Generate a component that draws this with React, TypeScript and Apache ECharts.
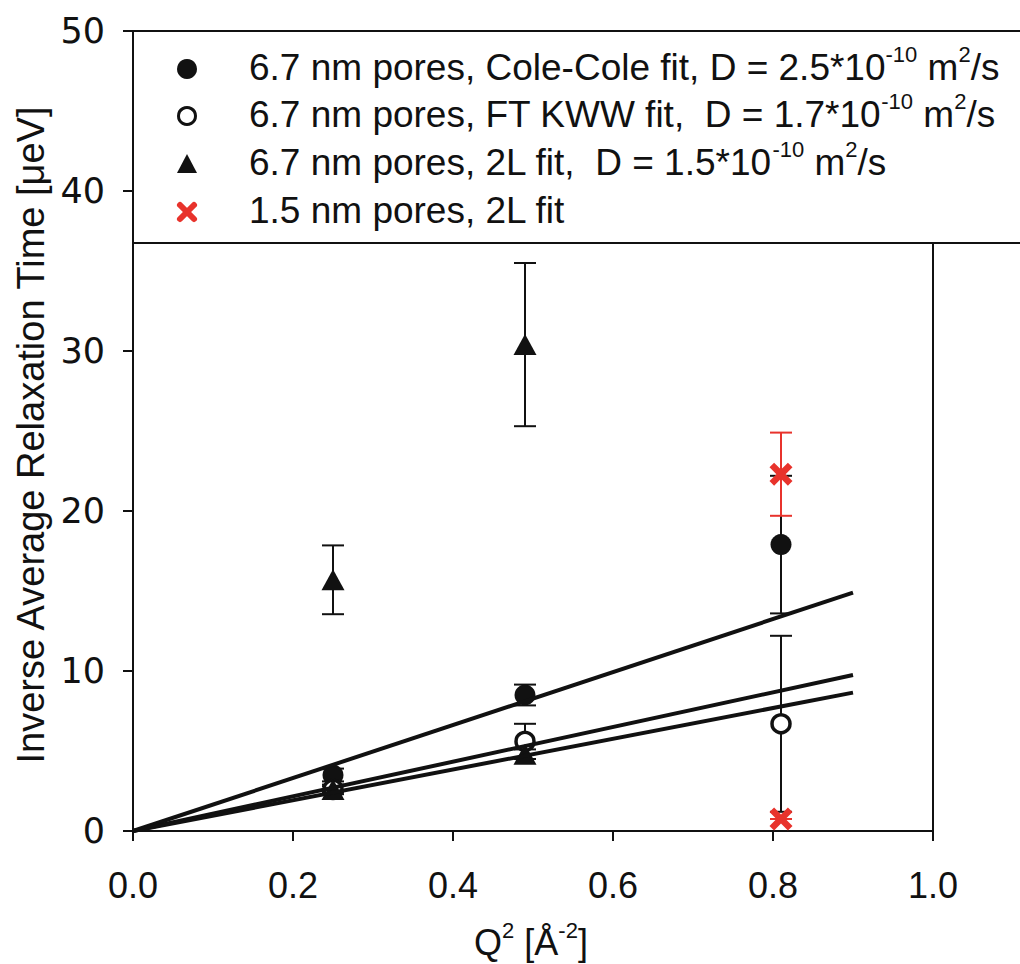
import React, { useEffect, useRef } from "react";
import * as echarts from "echarts";

// ---- data ----
const qColeCole = [0.25, 0.49, 0.81];
const coleCole = [3.5, 8.5, 17.9];
const coleColeErr = [0.4, 0.65, 4.3];

const qKww = [0.25, 0.49, 0.81];
const ftKww = [2.6, 5.6, 6.7];
const ftKwwErr = [0.3, 1.1, 5.5];

const q2L = [0.25, 0.49, 0.25, 0.49];
const twoL = [2.6, 4.8, 15.7, 30.4];
const twoLErr = [0.2, 0.3, 2.15, 5.1];

const qSmall = [0.81, 0.81];
const smallPores = [22.3, 0.75];
const smallPoresErr = [2.6, 0];

const fitX = [0, 0.9];
const fitColeCole = [0, 14.9];
const fitKww = [0, 9.75];
const fit2L = [0, 8.65];

const legendLabels = [
  "{a|6.7 nm pores, Cole-Cole fit, D = 2.5*10}{s|-10}{a| m}{s|2}{a|/s}",
  "{a|6.7 nm pores, FT KWW fit,  D = 1.7*10}{s|-10}{a| m}{s|2}{a|/s}",
  "{a|6.7 nm pores, 2L fit,  D = 1.5*10}{s|-10}{a| m}{s|2}{a|/s}",
  "{a|1.5 nm pores, 2L fit}",
];

const RED = "#e8332c";
const INK = "#111";
const CROSS =
  "path://M0,4 L4,0 L10,6 L16,0 L20,4 L14,10 L20,16 L16,20 L10,14 L4,20 L0,16 L6,10 Z";

const FONT = "'Liberation Sans', Arial, sans-serif";

function errData(xs: number[], ys: number[], es: number[]) {
  return xs.map((x, i) => [x, ys[i] - es[i], ys[i] + es[i]]);
}

function errSeries(data: number[][], color: string, lw: number) {
  return {
    type: "custom",
    z: 2,
    silent: true,
    data,
    renderItem: (params: any, api: any) => {
      const x = api.value(0);
      const lo = api.value(1);
      const hi = api.value(2);
      const p1 = api.coord([x, lo]);
      const p2 = api.coord([x, hi]);
      const hw = 11;
      const st = { stroke: color, lineWidth: lw };
      return {
        type: "group",
        children: [
          { type: "line", shape: { x1: p1[0], y1: p1[1], x2: p2[0], y2: p2[1] }, style: st },
          { type: "line", shape: { x1: p1[0] - hw, y1: p1[1], x2: p1[0] + hw, y2: p1[1] }, style: st },
          { type: "line", shape: { x1: p2[0] - hw, y1: p2[1], x2: p2[0] + hw, y2: p2[1] }, style: st },
        ],
      };
    },
  };
}

export default function App() {
  const ref = useRef<HTMLDivElement>(null);
  useEffect(() => {
    document.body.style.margin = "0";
    const chart = echarts.init(ref.current!, undefined, { renderer: "svg" });
    const left = 133;
    const top = 31;
    const w = 800;
    const h = 800;

    const rich = {
      a: { fontSize: 37, fontFamily: FONT, fill: INK, lineHeight: 48 },
      s: { fontSize: 22, fontFamily: FONT, fill: INK, verticalAlign: "top", lineHeight: 22 },
    };
    const rowY = [69, 116, 164, 212];
    const mx = 187;

    const graphics: any[] = [
      {
        type: "rect",
        z: 10,
        shape: { x: left, y: top, width: 1000, height: 212 },
        style: { fill: "#fff", stroke: INK, lineWidth: 2 },
      },
      {
        type: "line",
        z: 10,
        shape: { x1: left + w, y1: 243, x2: left + w, y2: top + h },
        style: { stroke: INK, lineWidth: 2 },
      },
      { type: "circle", z: 11, shape: { cx: mx, cy: rowY[0], r: 10 }, style: { fill: INK } },
      {
        type: "circle",
        z: 11,
        shape: { cx: mx, cy: rowY[1], r: 8.5 },
        style: { fill: "#fff", stroke: INK, lineWidth: 3 },
      },
      {
        type: "polygon",
        z: 11,
        shape: { points: [[mx, rowY[2] - 10], [mx - 10, rowY[2] + 9], [mx + 10, rowY[2] + 9]] },
        style: { fill: INK },
      },
      {
        type: "line",
        z: 11,
        shape: { x1: mx - 7, y1: rowY[3] - 7, x2: mx + 7, y2: rowY[3] + 7 },
        style: { stroke: RED, lineWidth: 6, lineCap: "round" },
      },
      {
        type: "line",
        z: 11,
        shape: { x1: mx - 7, y1: rowY[3] + 7, x2: mx + 7, y2: rowY[3] - 7 },
        style: { stroke: RED, lineWidth: 6, lineCap: "round" },
      },
      ...legendLabels.map((t, i) => ({
        type: "text",
        z: 11,
        x: 249,
        y: rowY[i] - 2,
        style: { text: t, rich, verticalAlign: "middle", align: "left" },
      })),
      {
        type: "text",
        z: 11,
        x: 31,
        y: 435,
        rotation: Math.PI / 2,
        style: {
          text: "Inverse Average Relaxation Time [μeV]",
          fontSize: 38,
          fontFamily: FONT,
          fill: INK,
          align: "center",
          verticalAlign: "middle",
        },
      },
      {
        type: "text",
        z: 11,
        x: 531,
        y: 942,
        style: {
          text: "{a|Q}{s|2}{a| [Å}{s|-2}{a|]}",
          rich: {
            a: { fontSize: 36, fontFamily: FONT, fill: INK, lineHeight: 46 },
            s: { fontSize: 22, fontFamily: FONT, fill: INK, verticalAlign: "top", lineHeight: 22 },
          },
          align: "center",
          verticalAlign: "middle",
        },
      },
    ];

    chart.setOption({
      animation: false,
      grid: { left, top, width: w, height: h, containLabel: false },
      xAxis: {
        type: "value",
        min: 0,
        max: 1,
        interval: 0.2,
        axisLine: { show: true, lineStyle: { color: INK, width: 2 } },
        axisTick: { show: true, inside: false, length: 10, lineStyle: { color: INK, width: 2 } },
        splitLine: { show: false },
        axisLabel: {
          margin: 36,
          fontSize: 36,
          fontFamily: FONT,
          color: INK,
          formatter: (v: number) => v.toFixed(1),
        },
      },
      yAxis: {
        type: "value",
        min: 0,
        max: 50,
        interval: 10,
        axisLine: { show: true, lineStyle: { color: INK, width: 2 } },
        axisTick: { show: true, inside: false, length: 10, lineStyle: { color: INK, width: 2 } },
        splitLine: { show: false },
        axisLabel: {
          margin: 28,
          fontSize: 35,
          fontFamily: "'DejaVu Sans', sans-serif",
          color: INK,
        },
      },
      graphic: graphics,
      series: [
        errSeries(errData(qColeCole, coleCole, coleColeErr), INK, 2),
        errSeries(errData(qKww, ftKww, ftKwwErr), INK, 2),
        errSeries(errData(q2L, twoL, twoLErr), INK, 2),
        errSeries(errData(qSmall, smallPores, smallPoresErr), RED, 2),
        {
          type: "scatter",
          z: 3,
          data: qColeCole.map((x, i) => [x, coleCole[i]]),
          symbol: "circle",
          symbolSize: 21,
          itemStyle: { color: INK, opacity: 1 },
        },
        {
          type: "scatter",
          z: 3,
          data: qKww.map((x, i) => [x, ftKww[i]]),
          symbol: "circle",
          symbolSize: 18,
          itemStyle: { color: "#fff", borderColor: INK, borderWidth: 3.5, opacity: 1 },
        },
        {
          type: "scatter",
          z: 3,
          data: q2L.map((x, i) => [x, twoL[i]]),
          symbol: "triangle",
          symbolSize: [23, 21],
          itemStyle: { color: INK, opacity: 1 },
        },
        {
          type: "scatter",
          z: 4,
          data: qSmall.map((x, i) => [x, smallPores[i]]),
          symbol: CROSS,
          symbolSize: 23,
          itemStyle: { color: RED, opacity: 1 },
        },
        ...[fitColeCole, fitKww, fit2L].map((ys) => ({
          type: "line",
          z: 5,
          data: fitX.map((x, i) => [x, ys[i]]),
          symbol: "none",
          lineStyle: { color: INK, width: 4 },
        })),
      ],
    });
    return () => chart.dispose();
  }, []);
  return <div ref={ref} style={{ width: 1020, height: 964 }} />;
}
